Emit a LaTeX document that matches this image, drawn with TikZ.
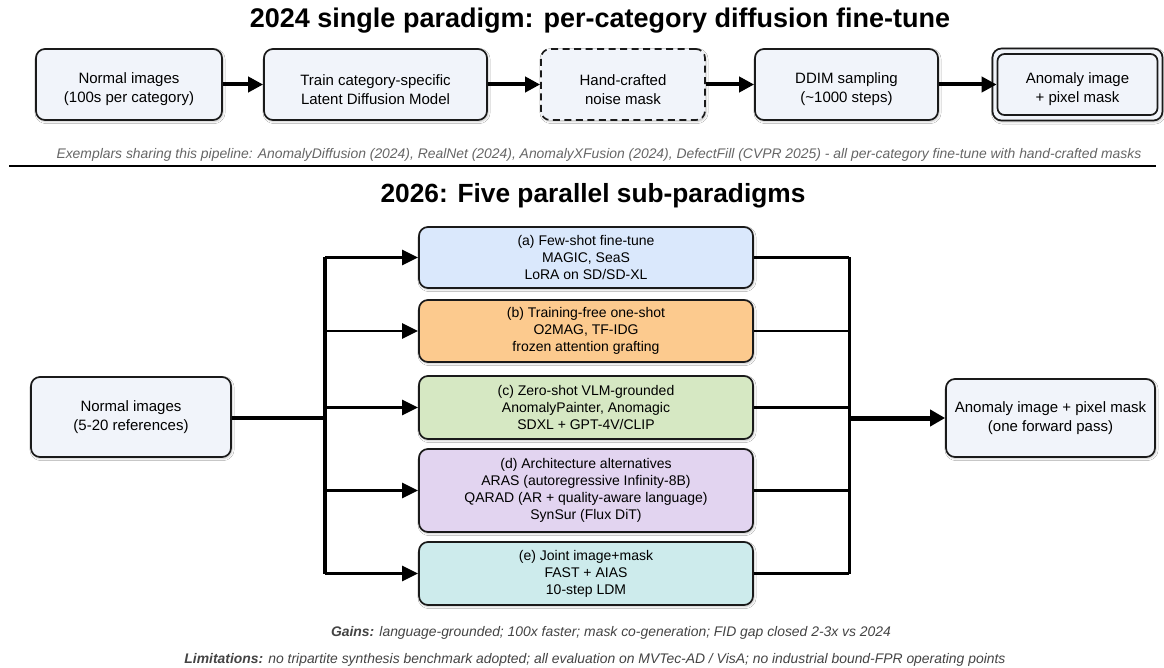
\documentclass[tikz,border=0pt]{standalone}
\usepackage{fontspec}
\setmainfont{Liberation Sans}[
  BoldFont=Liberation Sans Bold,
  ItalicFont=Liberation Sans Italic,
  BoldItalicFont=Liberation Sans Bold Italic]
\usetikzlibrary{arrows.meta,shadows.blur}

\definecolor{plainfill}{HTML}{F1F4FA}
\definecolor{fillA}{HTML}{DAE8FC}
\definecolor{fillB}{HTML}{FCCA8E}
\definecolor{fillC}{HTML}{D6E8C3}
\definecolor{fillD}{HTML}{E2D4F0}
\definecolor{fillE}{HTML}{CDEBEC}
\definecolor{notegray}{HTML}{666666}
\definecolor{footgray}{HTML}{444444}
\definecolor{edgeblack}{HTML}{1A1A1A}

\begin{document}
\begin{tikzpicture}[x=1pt,y=-1pt,
  box/.style={draw=edgeblack, line width=1.7pt, rounded corners=9pt,
    align=center, inner sep=0pt, fill=plainfill,
    blur shadow={shadow xshift=1pt, shadow yshift=-1.5pt, shadow blur steps=4, shadow opacity=25}},
  bigtext/.style={font=\fontsize{15}{19}\selectfont},
  subtext/.style={font=\fontsize{14}{17}\selectfont},
  topbox/.style={box, minimum height=71pt},
  toplabel/.style={bigtext, align=center, inner sep=0pt},
  subbox/.style={box, subtext, minimum width=334pt},
  heading/.style={font=\fontsize{27}{31}\selectfont\bfseries},
  subheading/.style={font=\fontsize{26.3}{30}\selectfont\bfseries},
  note/.style={font=\fontsize{13.9}{16}\selectfont\itshape},
  flow/.style={line width=4pt, -{Triangle[length=15pt,width=15pt]}},
  branch/.style={line width=2.8pt, -{Triangle[length=16pt,width=15pt]}},
  trunk/.style={line width=3.5pt},
  merge/.style={line width=2.4pt},
  bigflow/.style={line width=5pt, -{Triangle[length=15pt,width=16pt]}}
]
\useasboundingbox[fill=white] (0,0) rectangle (1164,668);

% ---------------- upper pipeline ----------------
\node[heading] (title1) at (600,21) {2024 single paradigm: per-category diffusion fine-tune};

\node[topbox, minimum width=186pt] (t1) at (129,84.5) {};
\node[topbox, minimum width=223pt] (t2) at (375.5,84.5) {};
\node[topbox, minimum width=164pt, dashed, dash pattern=on 7pt off 4.5pt] (t3) at (623,84.5) {};
\node[topbox, minimum width=183pt] (t4) at (846.5,84.5) {};
\node[box, minimum width=170pt, minimum height=72pt] (t5) at (1077.5,84.5) {};
\node[draw=edgeblack, line width=1.7pt, rounded corners=7pt, fill=plainfill,
  inner sep=0pt, minimum width=160pt, minimum height=61pt] (t5in) at (1077.5,84.5) {};

\node[toplabel] (t1txt) at (129,89.5) {Normal images\\(100s per category)};
\node[toplabel] (t2txt) at (375.5,89.5) {Train category-specific\\Latent Diffusion Model};
\node[toplabel] (t3txt) at (623,89.5) {Hand-crafted\\noise mask};
\node[toplabel] (t4txt) at (846.5,89.5) {DDIM sampling\\(\textasciitilde1000 steps)};
\node[toplabel] (t5txt) at (1077.5,89.5) {Anomaly image\\+ pixel mask};

\draw[flow] (t1) -- (t2);
\draw[flow] (t2) -- (t3);
\draw[flow] (t3) -- (t4);
\draw[flow] (t4) -- (t5in);

\node[note, text=notegray] (exemplars) at (599,155) {Exemplars sharing this pipeline: AnomalyDiffusion (2024), RealNet (2024), AnomalyXFusion (2024), DefectFill (CVPR 2025) - all per-category fine-tune with hand-crafted masks};

\coordinate (sepL) at (9,166);
\coordinate (sepR) at (1156,166);
\draw[line width=2.5pt] (sepL) -- (sepR);

% ---------------- lower fan-out ----------------
\node[subheading] (title2) at (593,196) {2026: Five parallel sub-paradigms};

\node[box, bigtext, minimum width=200pt, minimum height=80pt] (src) at (131,417) {Normal images\\(5-20 references)};
\node[box, bigtext, minimum width=209pt, minimum height=78pt] (dst) at (1050.5,418) {Anomaly image + pixel mask\\(one forward pass)};

\node[subbox, fill=fillA, minimum height=61pt] (pa) at (586,257.5) {(a) Few-shot fine-tune\\MAGIC, SeaS\\LoRA on SD/SD-XL};
\node[subbox, fill=fillB, minimum height=62pt] (pb) at (586,331) {(b) Training-free one-shot\\O2MAG, TF-IDG\\frozen attention grafting};
\node[subbox, fill=fillC, minimum height=63pt] (pc) at (586,407.5) {(c) Zero-shot VLM-grounded\\AnomalyPainter, Anomagic\\SDXL + GPT-4V/CLIP};
\node[subbox, fill=fillD, minimum height=83pt] (pd) at (586,490.5) {(d) Architecture alternatives\\ARAS (autoregressive Infinity-8B)\\QARAD (AR + quality-aware language)\\SynSur (Flux DiT)};
\node[subbox, fill=fillE, minimum height=63pt] (pe) at (586,573.5) {(e) Joint image+mask\\FAST + AIAS\\10-step LDM};

% split bus on the left
\coordinate (lj) at (325,418);
\draw[line width=4pt] (src.east |- lj) -- (lj);
\draw[trunk] (lj |- pa.west) -- (lj |- pe.west);
\foreach \p in {pa,pb,pc,pd,pe}
  \draw[branch] (lj |- \p.west) -- (\p.west);

% join bus on the right
\coordinate (rj) at (849,418);
\foreach \p in {pa,pb,pc,pd,pe}
  \draw[merge] (\p.east) -- (rj |- \p.east);
\draw[line width=3pt] (rj |- pa.east) -- (rj |- pe.east);
\draw[bigflow] (rj |- dst.west) -- (dst.west);

% ---------------- footnotes ----------------
\node[note, text=footgray] (gains) at (611,633) {\textbf{Gains:} language-grounded; 100x faster; mask co-generation; FID gap closed 2-3x vs 2024};
\node[note, text=footgray] (limits) at (595,660) {\textbf{Limitations:} no tripartite synthesis benchmark adopted; all evaluation on MVTec-AD / VisA; no industrial bound-FPR operating points};

\end{tikzpicture}
\end{document}
